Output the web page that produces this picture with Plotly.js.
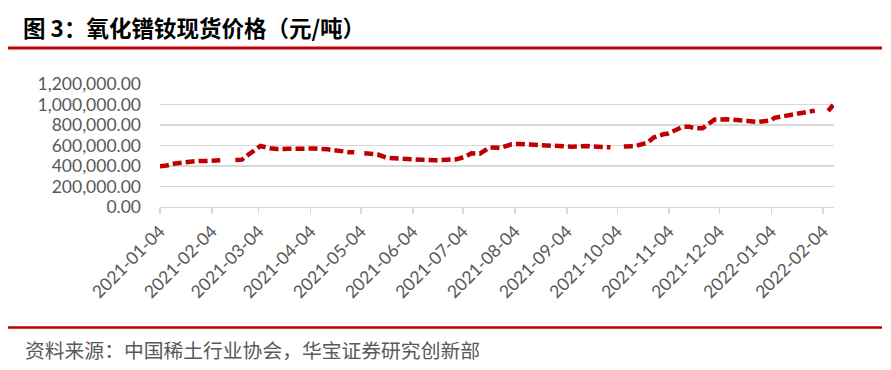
<!DOCTYPE html>
<html>
<head>
<meta charset="utf-8">
<script src="https://cdn.plot.ly/plotly-3.0.1.min.js"></script>
<style>
html,body{margin:0;padding:0;background:#fff;}
#chart{width:891px;height:370px;}
</style>
</head>
<body>
<div id="chart"></div>
<script>
// 氧化镨钕现货价格（元/吨）; null = 假期无报价（断线）
const dates = [
  "2021-01-04","2021-01-08","2021-01-13","2021-01-19","2021-01-25","2021-02-01","2021-02-05","2021-02-09",
  "2021-02-12",
  "2021-02-18","2021-02-22","2021-02-24","2021-03-01","2021-03-05","2021-03-10","2021-03-15","2021-03-22",
  "2021-03-29","2021-04-06","2021-04-14","2021-04-20","2021-04-27","2021-04-30",
  "2021-05-03",
  "2021-05-06","2021-05-14","2021-05-20","2021-05-27","2021-06-04","2021-06-10","2021-06-17","2021-06-24",
  "2021-06-30","2021-07-05","2021-07-09","2021-07-14","2021-07-20","2021-07-26","2021-08-02","2021-08-06",
  "2021-08-16","2021-08-23","2021-08-30","2021-09-07","2021-09-16","2021-09-23","2021-09-30",
  "2021-10-04",
  "2021-10-08","2021-10-15","2021-10-22","2021-10-26","2021-11-01","2021-11-03","2021-11-08","2021-11-12",
  "2021-11-16","2021-11-19","2021-11-24","2021-11-29","2021-12-01","2021-12-08","2021-12-15","2021-12-21",
  "2021-12-27","2022-01-04","2022-01-06","2022-01-12","2022-01-18","2022-01-24","2022-01-28","2022-01-30",
  "2022-02-03",
  "2022-02-07","2022-02-10"
];
const prices = [
  398000,405000,425000,440000,447000,450000,452000,455000,
  null,
  458000,462000,490000,556000,595000,575000,565000,568000,
  573000,570000,563000,545000,535000,533000,
  null,
  524000,512000,478000,475000,473000,460000,455000,455000,
  465000,490000,524000,520000,582000,577000,612000,615000,
  610000,605000,595000,588000,595000,585000,582000,
  null,
  590000,595000,627000,680000,712000,715000,751000,782000,
  784000,770000,768000,832000,852000,856000,852000,840000,
  830000,845000,870000,890000,904000,930000,940000,940000,
  null,
  937000,995000
];
const chartTitle = "图 3：氧化镨钕现货价格（元/吨）";
const sourceText = "资料来源：中国稀土行业协会，华宝证券研究创新部";

const red = "#C00000";
const grid = "#D9D9D9";
const tickFont = {family: "Lato, 'Open Sans', sans-serif", size: 17.5, color: "#595959"};

const trace = {
  x: dates, y: prices, type: "scatter", mode: "lines",
  connectgaps: false,
  line: {color: red, width: 4.5, dash: "9px,4px", shape: "linear"},
  hoverinfo: "x+y"
};

const layout = {
  width: 891, height: 370,
  paper_bgcolor: "#fff", plot_bgcolor: "#fff",
  margin: {l: 160, r: 57, t: 84, b: 163},
  showlegend: false,
  title: {
    text: "<b>" + chartTitle + "</b>",
    font: {family: "'Noto Sans CJK SC', 'Liberation Sans', sans-serif", size: 22.5, color: "#000"},
    xref: "container", yref: "container",
    x: 23/891, xanchor: "left", y: 1 - 29/370, yanchor: "middle"
  },
  xaxis: {
    type: "date",
    range: ["2021-01-04", "2022-02-10 12:00"],
    tick0: "2021-01-04", dtick: "M1",
    tickformat: "%Y-%m-%d",
    tickangle: -45,
    tickfont: tickFont,
    ticks: "outside", ticklen: 6, tickcolor: grid, tickwidth: 1.3,
    showgrid: false, zeroline: false,
    showline: true, linecolor: grid, linewidth: 1.3,
    fixedrange: true
  },
  yaxis: {
    range: [0, 1200000],
    tick0: 0, dtick: 200000,
    tickformat: ",.2f",
    tickfont: tickFont,
    showgrid: true, gridcolor: grid, gridwidth: 1.3,
    zeroline: false, showline: false, ticks: "",
    ticklabelstandoff: 18,
    fixedrange: true
  },
  shapes: [
    {type: "line", xref: "paper", yref: "paper", x0: -0.2255, x1: 1.0712,
     y0: (207-48)/123, y1: (207-48)/123, line: {color: red, width: 3}},
    {type: "line", xref: "paper", yref: "paper", x0: -0.2255, x1: 1.0712,
     y0: (207-327.5)/123, y1: (207-327.5)/123, line: {color: red, width: 2.5}}
  ],
  annotations: [
    {text: sourceText, xref: "paper", yref: "paper",
     x: (23-160)/674, xanchor: "left", y: (207-349)/123, yanchor: "middle",
     showarrow: false,
     font: {family: "'Noto Sans CJK SC', sans-serif", size: 19.8, color: "#595959"}}
  ]
};

Plotly.newPlot("chart", [trace], layout, {displayModeBar: false, staticPlot: true});
</script>
</body>
</html>
